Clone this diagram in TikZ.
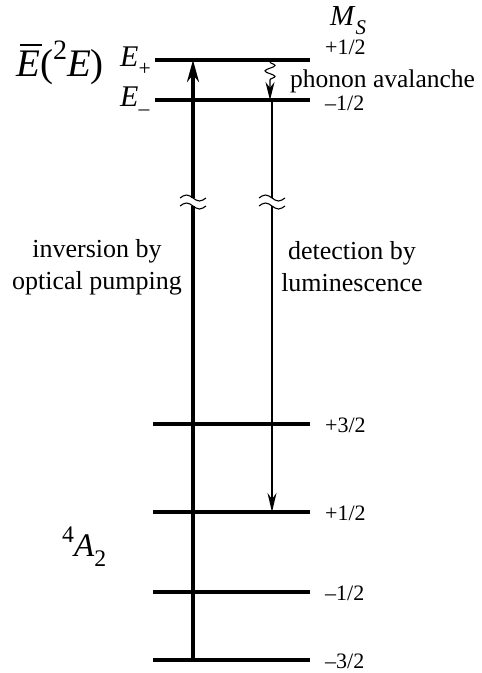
\documentclass[tikz,border=0pt]{standalone}
\usepackage{fontspec}
\usepackage{graphicx}
\setmainfont{Liberation Serif}
\usetikzlibrary{arrows.meta,decorations.pathmorphing}
\newcommand\lowsub[1]{\raisebox{-0.32em}{\scalebox{0.72}{#1}}}
\newcommand\highsup[1]{\raisebox{0.42em}{\scalebox{0.72}{#1}}}
\newcommand\barE{\makebox[0pt][l]{\hspace{0.1em}\raisebox{0.78em}{\rule{0.56em}{0.045em}}}\textit{E}}
\begin{document}
\begin{tikzpicture}[x=1pt,y=-1pt,
  level/.style={line width=3.2pt},
  pump/.style={line width=3.2pt},
  pumphead/.style={line width=3.2pt,-{Stealth[length=22pt,width=12pt]}},
  lum/.style={line width=1.4pt},
  lumhead/.style={line width=1.4pt,-{Stealth[length=19pt,width=9pt]}},
  brk/.style={line width=1.1pt},
  msl/.style={anchor=base west,inner sep=0pt,font=\fontsize{22}{24}\selectfont},
  txt/.style={inner sep=0pt,align=center,font=\fontsize{26}{32}\selectfont},
  big/.style={anchor=base west,inner sep=0pt,font=\fontsize{33}{36}\selectfont},
]
\useasboundingbox (0,0) rectangle (482,673);

% levels
\coordinate (epL) at (155,60);  \coordinate (epR) at (310,60);
\coordinate (emL) at (155,100); \coordinate (emR) at (310,100);
\coordinate (g3L) at (153,424); \coordinate (g3R) at (310,424);
\coordinate (g1L) at (153,512); \coordinate (g1R) at (310,512);
\coordinate (gm1L) at (153,592); \coordinate (gm1R) at (310,592);
\coordinate (gm3L) at (153,660); \coordinate (gm3R) at (310,660);
\foreach \a in {ep,em,g3,g1,gm1,gm3} \draw[level] (\a L) -- (\a R);

% pumping arrow with break
\coordinate (pBot) at (193,660);
\coordinate (pBrkLo) at (193,206);
\coordinate (pBrkHi) at (193,198);
\coordinate (pTop) at (193,60);
\draw[pump] (pBot) -- (pBrkLo);
\draw[pumphead] (pBrkHi) -- (pTop);
\draw[brk] (180,198) sin (186.5,195) cos (193,198) sin (199.5,201) cos (206,198);
\draw[brk] (180,206) sin (186.5,203) cos (193,206) sin (199.5,209) cos (206,206);

% luminescence arrow with break
\coordinate (lTop) at (272,100);
\coordinate (lBrkHi) at (272,198);
\coordinate (lBrkLo) at (272,206);
\coordinate (lBot) at (272,512);
\draw[lum] (lTop) -- (lBrkHi);
\draw[lumhead] (lBrkLo) -- (lBot);
\draw[brk] (259,198) sin (265.5,195) cos (272,198) sin (278.5,201) cos (285,198);
\draw[brk] (259,206) sin (265.5,203) cos (272,206) sin (278.5,209) cos (285,206);

% phonon avalanche squiggle
\coordinate (sqTop) at (270,62);
\coordinate (sqBot) at (270,100);
\draw[line width=1.1pt,decorate,decoration={snake,amplitude=5pt,segment length=11pt,post length=17pt},-{Stealth[length=18pt,width=9pt]}] (sqTop) -- (sqBot);

% labels
\node[anchor=base west,inner sep=0pt,font=\fontsize{29}{31}\selectfont] (ms) at (330,25) {\textit{M}\lowsub{\textit{S}}};
\node[msl] (m1) at (325,54) {+1/2};
\node[msl] (m2) at (325,110) {–1/2};
\node[msl] (m3) at (325,432) {+3/2};
\node[msl] (m4) at (325,520) {+1/2};
\node[msl] (m5) at (325,600) {–1/2};
\node[msl] (m6) at (325,668) {–3/2};
\node[anchor=base west,inner sep=0pt,font=\fontsize{25.5}{28}\selectfont] (ph) at (290,87) {phonon avalanche};

\node[anchor=base west,inner sep=0pt,font=\fontsize{39}{41}\selectfont] (eb) at (16,76) {\barE(\highsup{2}\textit{E})};
\node[anchor=base west,inner sep=0pt,font=\fontsize{30}{32}\selectfont] (ep) at (120,66) {\textit{E}\lowsub{+}};
\node[anchor=base west,inner sep=0pt,font=\fontsize{30}{32}\selectfont] (em) at (120,106) {\textit{E}\lowsub{–}};

\node[txt] (inv) at (97,267) {inversion by\\optical pumping};
\node[txt] (det) at (352,267) {detection by\\luminescence};

\node[big] (a2) at (62,556) {\highsup{4}\textit{A}\lowsub{2}};
\end{tikzpicture}
\end{document}
